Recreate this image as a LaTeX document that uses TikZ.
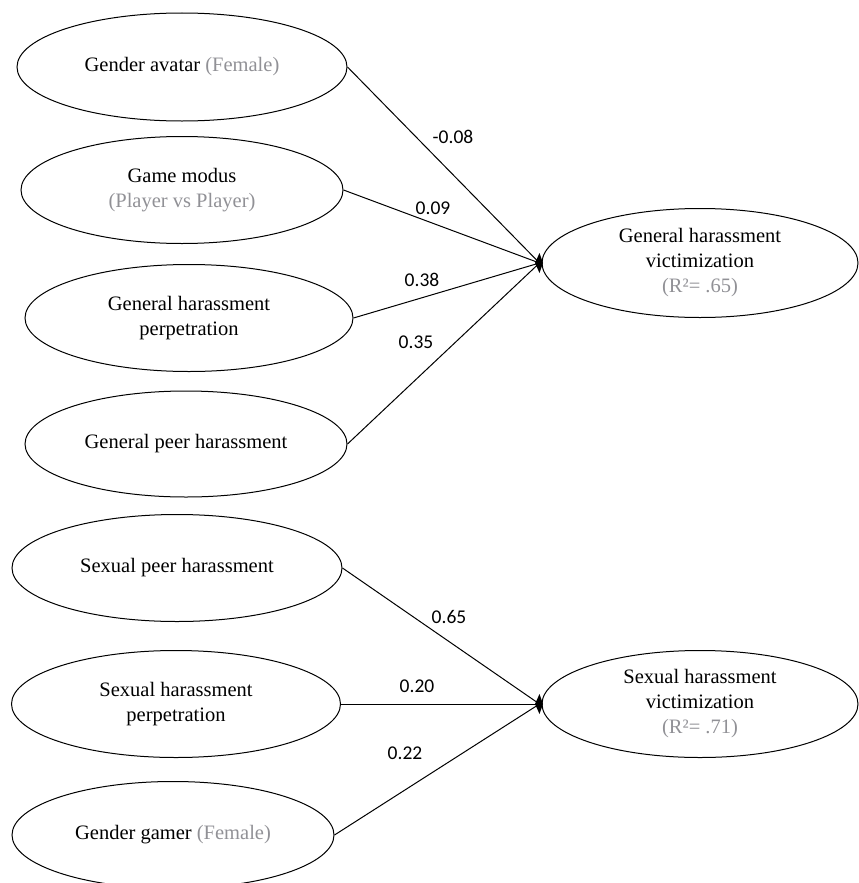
\documentclass[tikz,border=0pt]{standalone}
\usepackage{fontspec}
\setmainfont{Liberation Serif}
\newfontfamily\numfont{Carlito}
\usetikzlibrary{shapes.geometric}
\definecolor{lightgraytext}{RGB}{145,145,150}
\newcommand{\gr}[1]{\textcolor{lightgraytext}{#1}}
\tikzset{
  var/.style={draw=black, line width=1bp, ellipse, inner sep=0pt, align=center,
    font=\fontsize{20.5bp}{25bp}\selectfont, minimum width=#1},
  var/.default=330bp,
  path/.style={draw=black, line width=1bp},
  coef/.style={font=\numfont\fontsize{19.5bp}{22bp}\selectfont, inner sep=0pt},
  tipmark/.style={fill=black, draw=none}
}
\begin{document}
\begin{tikzpicture}[x=1bp,y=-1bp]
\useasboundingbox (0,0) rectangle (859,883);
% top group
\node[var=330bp, minimum height=108bp] (ga) at (182,67) {Gender avatar \gr{(Female)}};
\node[var=322bp, minimum height=107bp] (gm) at (182,190) {Game modus\\\gr{(Player vs Player)}};
\node[var=328bp, minimum height=107bp] (ghp) at (189,318) {General harassment\\perpetration};
\node[var=322bp, minimum height=106bp] (gph) at (186,444) {General peer harassment};
\node[var=316bp, minimum height=109bp] (ghv) at (700,263) {General harassment\\victimization\\\gr{(R²= .65)}};
\coordinate (gtip) at ([xshift=-2bp]ghv.west);
\draw[path] (ga.east) -- (gtip);
\draw[path] (gm.east) -- (gtip);
\draw[path] (ghp.east) -- (gtip);
\draw[path] (gph.east) -- (gtip);
\fill[tipmark] ([xshift=-4.5bp]gtip) -- ([yshift=-10bp]gtip) -- ([xshift=3.5bp]gtip) -- ([yshift=10bp]gtip) -- cycle;
\node[coef] (l1) at (453,137) {-0.08};
\node[coef] (l2) at (433,208) {0.09};
\node[coef] (l3) at (422,280) {0.38};
\node[coef] (l4) at (416,342) {0.35};
% bottom group
\node[var=330bp, minimum height=107bp] (sph) at (177,568) {Sexual peer harassment};
\node[var=329bp, minimum height=107bp] (shp) at (176,704) {Sexual harassment\\perpetration};
\node[var=322bp, minimum height=107bp] (gg) at (173,835) {Gender gamer \gr{(Female)}};
\node[var=316bp, minimum height=107bp] (shv) at (700,704) {Sexual harassment\\victimization\\\gr{(R²= .71)}};
\coordinate (stip) at ([xshift=-2bp]shv.west);
\draw[path] (sph.east) -- (stip);
\draw[path] (shp.east) -- (stip);
\draw[path] (gg.east) -- (stip);
\fill[tipmark] ([xshift=-4.5bp]stip) -- ([yshift=-10bp]stip) -- ([xshift=3.5bp]stip) -- ([yshift=10bp]stip) -- cycle;
\node[coef] (l5) at (449,617) {0.65};
\node[coef] (l6) at (417,686) {0.20};
\node[coef] (l7) at (405,753) {0.22};
\end{tikzpicture}
\end{document}
